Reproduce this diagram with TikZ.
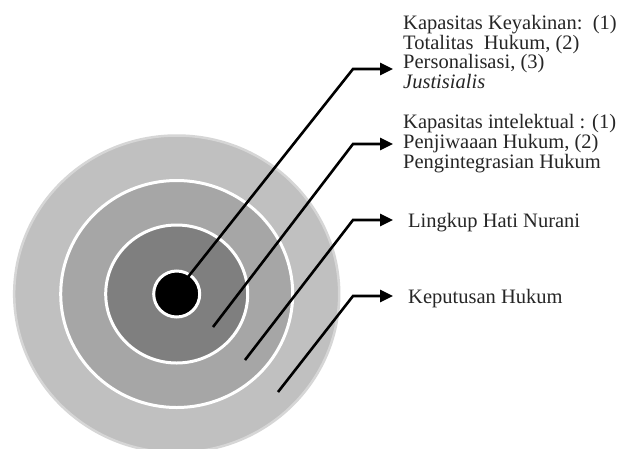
\documentclass[tikz,border=0pt]{standalone}
\usepackage{fontspec}
\setmainfont{Liberation Serif}
\usetikzlibrary{arrows.meta}
\definecolor{ringA}{HTML}{C0C0C0}
\definecolor{rimA}{HTML}{D6D6D6}
\definecolor{ringB}{HTML}{A6A6A6}
\definecolor{ringC}{HTML}{7F7F7F}
\definecolor{txt}{HTML}{262626}
\tikzset{
  lbl/.style={anchor=base west, inner sep=0pt, text=txt, font=\fontsize{20.5}{19.5}\selectfont},
  conn/.style={draw=black, line width=2.6pt, line join=miter, -{Triangle[length=13pt,width=12pt]}},
}
\begin{document}
\begin{tikzpicture}[x=1pt,y=-1pt]
\useasboundingbox (0,0) rectangle (624,448);
\fill[white] (0,0) rectangle (624,448);
% rings
\begin{scope}
\clip (0,0) rectangle (624,448);
\filldraw[fill=ringA, draw=rimA, line width=2.5pt] (176.7,294) ellipse [x radius=162.5pt, y radius=158.5pt];
\filldraw[fill=ringB, draw=white, line width=3pt] (176.7,294) ellipse [x radius=116pt, y radius=113.5pt];
\filldraw[fill=ringC, draw=white, line width=3pt] (176.7,294) ellipse [x radius=71pt, y radius=69pt];
\filldraw[fill=black, draw=white, line width=3pt] (176.7,294) circle [radius=23pt];
\end{scope}
% connector coordinates
\coordinate (s1) at (188,277);
\coordinate (k1) at (353,69);
\coordinate (e1) at (393,69);
\coordinate (s2) at (213,327);
\coordinate (k2) at (353,144);
\coordinate (e2) at (393,144);
\coordinate (s3) at (245,360);
\coordinate (k3) at (353,220);
\coordinate (e3) at (393,220);
\coordinate (s4) at (278,392);
\coordinate (k4) at (353,296);
\coordinate (e4) at (393,296);
% labels
\node[lbl] (a1) at (403,29) {Kapasitas Keyakinan:\ \ (1)};
\node[lbl] (a2) at (403,49) {Totalitas\ \ Hukum, (2)};
\node[lbl] (a3) at (403,68.5) {Personalisasi, (3)};
\node[lbl] (a4) at (403,88) {\itshape Justisialis};
\node[lbl] (b1) at (403,128) {Kapasitas intelektual : (1)};
\node[lbl] (b2) at (403,148) {Penjiwaaan Hukum, (2)};
\node[lbl] (b3) at (403,168) {Pengintegrasian Hukum};
\node[lbl] (c1) at (408,227) {Lingkup Hati Nurani};
\node[lbl] (d1) at (408,303) {Keputusan Hukum};
% connectors
\draw[conn] (s1) -- (k1) -- (e1);
\draw[conn] (s2) -- (k2) -- (e2);
\draw[conn] (s3) -- (k3) -- (e3);
\draw[conn] (s4) -- (k4) -- (e4);
\end{tikzpicture}
\end{document}
